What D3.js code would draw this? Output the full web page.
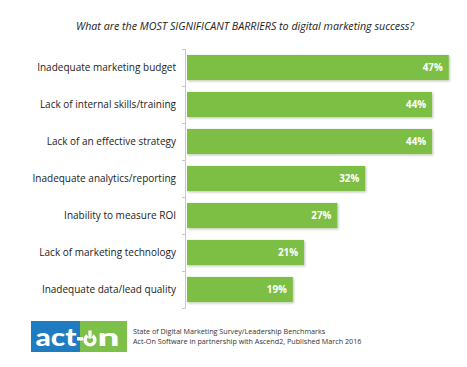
<!DOCTYPE html>
<html><head><meta charset="utf-8">
<script src="https://cdn.jsdelivr.net/npm/d3@7"></script>
<style>body{margin:0;background:#fff}svg{display:block}</style>
</head><body>
<svg id="c" width="467" height="367"></svg>
<script>
const categories = ["Inadequate marketing budget","Lack of internal skills/training","Lack of an effective strategy","Inadequate analytics/reporting","Inability to measure ROI","Lack of marketing technology","Inadequate data/lead quality"];
const values = [47,44,44,32,27,21,19];
const title = "What are the MOST SIGNIFICANT BARRIERS to digital marketing success?";
const sourceLines = ["State of Digital Marketing Survey/Leadership Benchmarks","Act-On Software in partnership with Ascend2, Published March 2016"];

const svg = d3.select("#c");
const defs = svg.append("defs");
const f = defs.append("filter").attr("id","sh").attr("x","-5%").attr("y","-20%").attr("width","110%").attr("height","150%");
f.append("feDropShadow").attr("dx",1).attr("dy",1.2).attr("stdDeviation",0.8).attr("flood-color","#000").attr("flood-opacity",0.25);

const x = d3.scaleLinear().domain([0,50]).range([187,465.5]);
const y = d3.scaleBand().domain(categories).range([49,308]).paddingInner(0.32).paddingOuter(0.16);

svg.append("text").attr("x",245).attr("y",30).attr("text-anchor","middle")
  .attr("font-family","Open Sans").attr("font-style","italic").attr("font-size",10.7).attr("fill","#222").text(title);

// axis
const ax = svg.append("g").attr("stroke","#c8c8c8").attr("stroke-width",1);
ax.append("line").attr("x1",185.5).attr("x2",185.5).attr("y1",49).attr("y2",308);
d3.range(categories.length+1).forEach(i=>{
  const yy = Math.round(49 + i*(259/categories.length))+0.5;
  ax.append("line").attr("x1",182).attr("x2",185.5).attr("y1",yy).attr("y2",yy);
});

svg.append("g").selectAll("rect").data(values).join("rect")
  .attr("x",x(0)).attr("y",(d,i)=>y(categories[i]))
  .attr("width",d=>x(d)-x(0)).attr("height",y.bandwidth())
  .attr("fill","#7dbf45").attr("filter","url(#sh)");

svg.append("g").selectAll("text").data(values).join("text")
  .attr("x",d=>x(d)-6).attr("y",(d,i)=>y(categories[i])+y.bandwidth()/2+3.5)
  .attr("text-anchor","end").attr("font-family","Open Sans").attr("font-weight","bold")
  .attr("font-size",9.8).attr("fill","#fff").text(d=>d+"%");

svg.append("g").selectAll("text").data(categories).join("text")
  .attr("x",176).attr("y",d=>y(d)+y.bandwidth()/2+3.6)
  .attr("text-anchor","end").attr("font-family","Open Sans").attr("font-size",10)
  .attr("fill","#222").text(d=>d);

// logo
const lg = svg.append("g");
lg.append("rect").attr("x",31).attr("y",321).attr("width",49).attr("height",31).attr("fill","#1f7cc1");
lg.append("rect").attr("x",80).attr("y",321).attr("width",47).attr("height",31).attr("fill","#7cc04a");
lg.append("text").attr("x",35.5).attr("y",346).attr("font-family","Lato").attr("font-weight","900")
  .attr("font-size",24).attr("textLength",41).attr("lengthAdjust","spacingAndGlyphs").attr("fill","#fff").text("act");
lg.append("rect").attr("x",77).attr("y",337).attr("width",6).attr("height",3.5).attr("fill","#fff");
// power-symbol "o"
const arc = d3.arc().innerRadius(3.2).outerRadius(6.6).startAngle(0.55).endAngle(2*Math.PI-0.55);
lg.append("path").attr("d",arc()).attr("transform","translate(90,340)").attr("fill","#fff");
lg.append("rect").attr("x",88.4).attr("y",330.5).attr("width",3.2).attr("height",8).attr("fill","#fff");
lg.append("text").attr("x",97.5).attr("y",346).attr("font-family","Lato").attr("font-weight","900")
  .attr("font-size",24).attr("textLength",22).attr("lengthAdjust","spacingAndGlyphs").attr("fill","#fff").text("n");

svg.append("g").selectAll("text").data(sourceLines).join("text")
  .attr("x",133).attr("y",(d,i)=>334+i*10).attr("font-family","Open Sans").attr("font-size",7.2)
  .attr("fill","#333").text(d=>d);
</script>
</body></html>
